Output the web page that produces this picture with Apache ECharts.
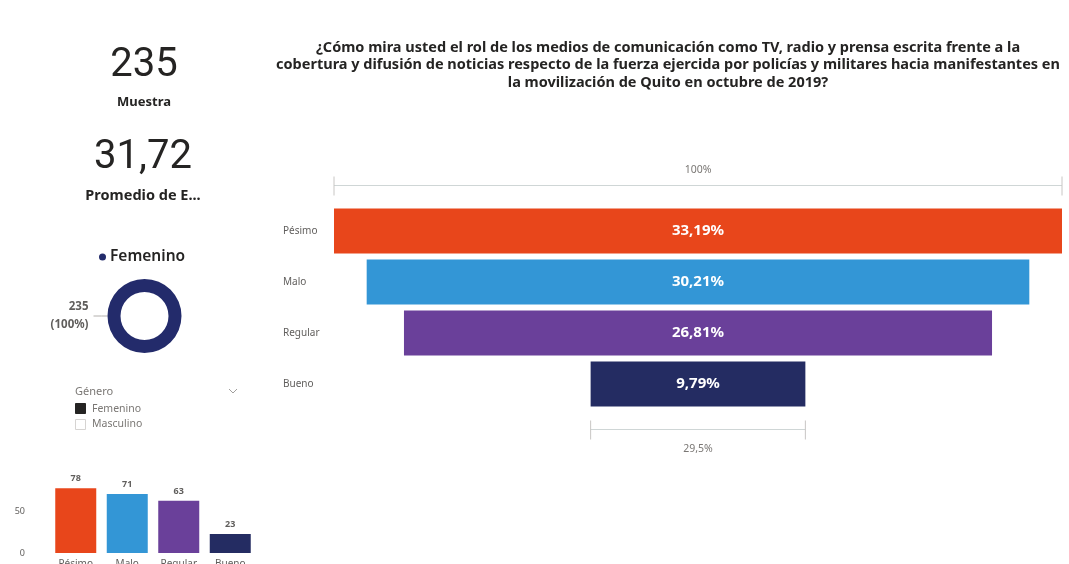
<!DOCTYPE html>
<html>
<head>
<meta charset="utf-8">
<script src="https://cdn.jsdelivr.net/npm/echarts@6/dist/echarts.min.js"></script>
<style>
  html, body { margin: 0; padding: 0; background: #ffffff; }
  #dash { width: 1069px; height: 564px; }
</style>
</head>
<body>
<div id="dash"></div>
<script>
// Survey answers: rating of the media coverage
const categories = ['Pésimo', 'Malo', 'Regular', 'Bueno'];
const counts = [78, 71, 63, 23];
const shares = [33.19, 30.21, 26.81, 9.79];
const barColors = ['#E8461B', '#3396D6', '#6A409A', '#242C62'];

// Summary cards
const sampleSize = '235';
const sampleLabel = 'Muestra';
const averageValue = '31,72';
const averageLabel = 'Promedio de E...';

// Gender donut and slicer
const genderNames = ['Femenino'];
const genderCounts = [235];
const genderColors = ['#232B6B'];
const slicerTitle = 'Género';
const slicerItems = ['Femenino', 'Masculino'];

// Count axis ticks for the small column chart
const countTicks = [0, 50, 100];

const titleLines = [
  '¿Cómo mira usted el rol de los medios de comunicación como TV, radio y prensa escrita frente a la',
  'cobertura y difusión de noticias respecto de la fuerza ejercida por policías y militares hacia manifestantes en',
  'la movilización de Quito en octubre de 2019?'
];

const FONT = "'Noto Sans', 'Open Sans', sans-serif";
const TEXT_DARK = '#252423';
const TEXT_GREY = '#605E5C';

const maxShare = Math.max(...shares);
const offsets = shares.map(v => (maxShare - v) / 2);
const fmtPct = (v, d) => v.toFixed(d).replace('.', ',') + '%';

const chart = echarts.init(document.getElementById('dash'), null, { renderer: 'canvas' });

chart.setOption({
  animation: false,
  backgroundColor: '#ffffff',
  textStyle: { fontFamily: FONT },
  title: {
    text: titleLines.join('\n'),
    left: 668,
    top: 39,
    padding: 0,
    textAlign: 'center',
    textStyle: { fontFamily: FONT, fontSize: 14.5, fontWeight: 'bold', color: TEXT_DARK, lineHeight: 17.5 }
  },
  legend: {
    data: genderNames,
    left: 99,
    top: 249,
    padding: 0,
    icon: 'circle',
    itemWidth: 7,
    itemHeight: 7,
    itemGap: 4,
    selectedMode: false,
    textStyle: { fontFamily: FONT, fontSize: 15.5, fontWeight: 600, color: TEXT_DARK, padding: [0, 0, 0, -1] }
  },
  grid: [
    { left: 334, right: 7, top: 205.5, bottom: 154.5, outerBoundsMode: 'none' },
    { left: 50, right: 813, top: 470, bottom: 11, outerBoundsMode: 'none' }
  ],
  xAxis: [
    { type: 'value', gridIndex: 0, min: 0, max: maxShare, show: false },
    {
      type: 'category', gridIndex: 1, data: categories,
      axisLine: { show: false }, axisTick: { show: false },
      axisLabel: { fontSize: 10, color: TEXT_GREY, margin: 6, fontFamily: FONT }
    }
  ],
  yAxis: [
    {
      type: 'category', gridIndex: 0, data: categories, inverse: true,
      axisLine: { show: false }, axisTick: { show: false },
      axisLabel: { align: 'left', margin: 51, fontSize: 10, color: TEXT_GREY, fontFamily: FONT }
    },
    {
      type: 'value', gridIndex: 1, min: countTicks[0], max: countTicks[countTicks.length - 1],
      interval: countTicks[1] - countTicks[0],
      axisLine: { show: false }, axisTick: { show: false }, splitLine: { show: false },
      axisLabel: { showMaxLabel: false, margin: 25, fontSize: 9, color: TEXT_GREY, fontFamily: FONT }
    }
  ],
  series: [
    {
      name: 'offset', type: 'bar', xAxisIndex: 0, yAxisIndex: 0, stack: 'funnel',
      barWidth: 45, silent: true,
      itemStyle: { color: 'transparent' },
      data: offsets
    },
    {
      name: 'Porcentaje', type: 'bar', xAxisIndex: 0, yAxisIndex: 0, stack: 'funnel',
      barWidth: 45,
      data: shares.map((v, i) => ({ value: v, itemStyle: { color: barColors[i] } })),
      label: {
        show: true, position: 'inside', color: '#ffffff', fontSize: 15, fontWeight: 'bold',
        fontFamily: FONT,
        formatter: p => fmtPct(shares[p.dataIndex], 2)
      }
    },
    {
      name: 'Recuento', type: 'bar', xAxisIndex: 1, yAxisIndex: 1,
      barWidth: 41,
      data: counts.map((v, i) => ({ value: v, itemStyle: { color: barColors[i] } })),
      label: {
        show: true, position: 'top', distance: 5, fontSize: 9, fontWeight: 'bold',
        color: TEXT_GREY, fontFamily: FONT
      }
    },
    {
      name: 'Género', type: 'pie',
      center: [144.5, 316], radius: [24, 37],
      startAngle: 0,
      data: genderNames.map((n, i) => ({ name: n, value: genderCounts[i], itemStyle: { color: genderColors[i] } })),
      label: {
        show: true, position: 'outside', formatter: '{c}\n({d}%)',
        fontSize: 11.5, fontWeight: 'bold', color: TEXT_GREY, lineHeight: 18, fontFamily: FONT,
        distanceToLabelLine: 5
      },
      labelLine: { show: true, length: 6, length2: 8, lineStyle: { color: '#B3B0AD', width: 1 } },
      emphasis: { disabled: true }
    }
  ]
});

// Range brackets above the widest bar and below the narrowest one
const px = v => chart.convertToPixel({ xAxisIndex: 0 }, v);
const py = c => chart.convertToPixel({ yAxisIndex: 0 }, c);
const last = shares.length - 1;
const topL = px(offsets[0]), topR = px(offsets[0] + shares[0]);
const botL = px(offsets[last]), botR = px(offsets[last] + shares[last]);
const yTop = py(categories[0]) - 22.5 - 23;
const yBot = py(categories[last]) + 22.5 + 23;
const bracketColor = '#CFD6D6';
const tickColor = '#C8C6C4';

function bracket(l, r, y, text, textY) {
  return [
    { type: 'line', shape: { x1: l, y1: y, x2: r, y2: y }, style: { stroke: bracketColor, lineWidth: 1 } },
    { type: 'line', shape: { x1: l, y1: y - 9, x2: l, y2: y + 10 }, style: { stroke: tickColor, lineWidth: 1 } },
    { type: 'line', shape: { x1: r, y1: y - 9, x2: r, y2: y + 10 }, style: { stroke: tickColor, lineWidth: 1 } },
    { type: 'text', x: (l + r) / 2, y: textY,
      style: { text: text, font: '10.5px ' + FONT, fill: '#7A7774', textAlign: 'center', textVerticalAlign: 'middle' } }
  ];
}

function label(text, x, y, font, fill, align) {
  return { type: 'text', x: x, y: y,
    style: { text: text, font: font, fill: fill, textAlign: align || 'center', textVerticalAlign: 'middle' } };
}

const graphics = [
  ...bracket(topL, topR, yTop, '100%', yTop - 15),
  ...bracket(botL, botR, yBot, fmtPct(shares[last] / shares[0] * 100, 1), yBot + 20),
  // summary cards
  label(sampleSize, 144, 66, '400 40px Roboto, ' + FONT, TEXT_DARK),
  label(sampleLabel, 144, 102, 'bold 13px ' + FONT, TEXT_DARK),
  label(averageValue, 143, 158, '400 40px Roboto, ' + FONT, TEXT_DARK),
  label(averageLabel, 143, 196, 'bold 14.5px ' + FONT, TEXT_DARK),
  // gender slicer
  label(slicerTitle, 75, 392, '11px ' + FONT, '#7A7774', 'left'),
  { type: 'polyline', shape: { points: [[229, 389], [233, 393], [237, 389]] }, style: { stroke: '#A19F9D', lineWidth: 1, fill: null } },
  { type: 'rect', shape: { x: 75.5, y: 403.5, width: 10, height: 10 }, style: { fill: TEXT_DARK, stroke: TEXT_DARK } },
  label(slicerItems[0], 92, 409, '10.5px ' + FONT, '#7A7774', 'left'),
  { type: 'rect', shape: { x: 75.5, y: 419.5, width: 10, height: 10 }, style: { fill: '#ffffff', stroke: '#D6D4D2' } },
  label(slicerItems[1], 92, 424, '10.5px ' + FONT, '#7A7774', 'left')
];

chart.setOption({ graphic: graphics });
</script>
</body>
</html>
